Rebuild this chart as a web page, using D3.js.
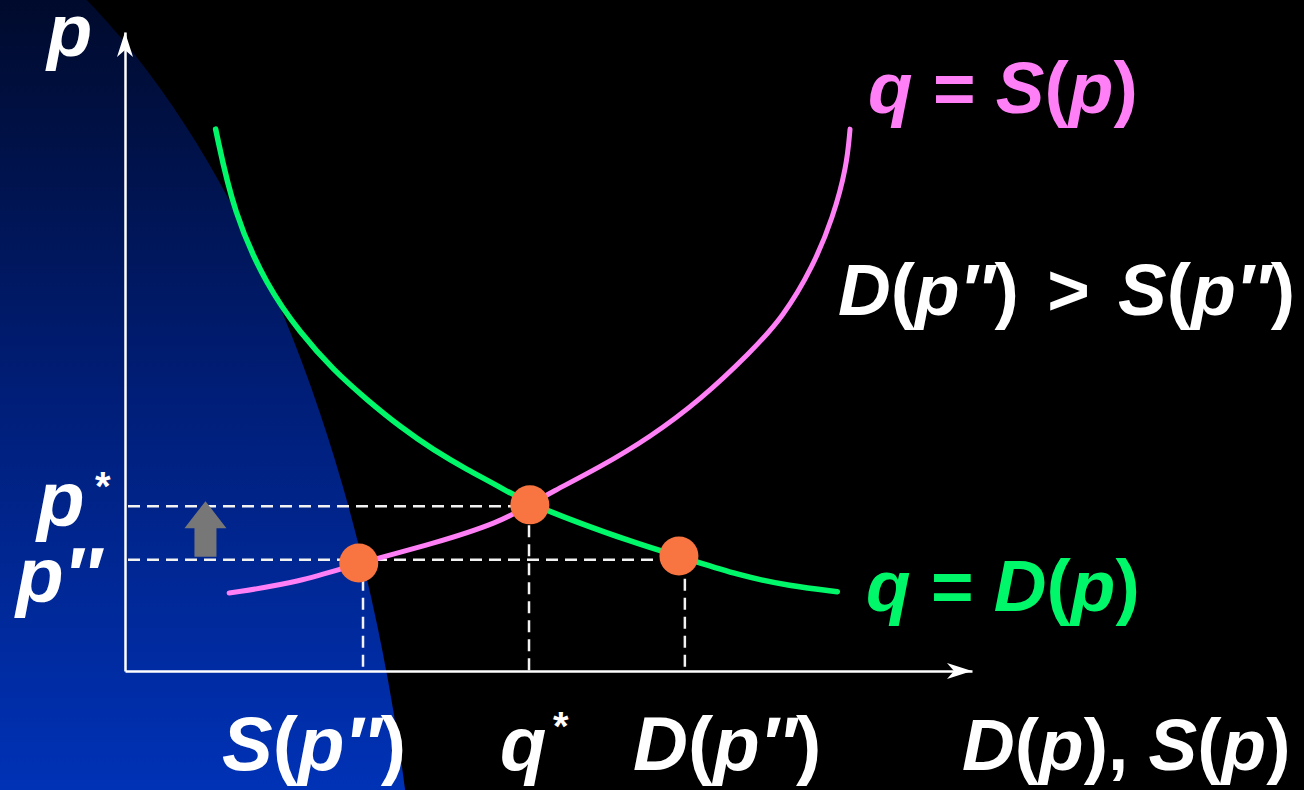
<!DOCTYPE html>
<html>
<head>
<meta charset="utf-8">
<script src="https://cdn.jsdelivr.net/npm/d3@7"></script>
<style>
  html, body { margin: 0; padding: 0; background: #000; }
  svg { display: block; }
  text { font-family: "Liberation Sans", Arial, Helvetica, sans-serif; font-weight: bold; }
</style>
</head>
<body>
<svg id="chart" width="1304" height="790"></svg>
<script>
// Demand curve q = D(p): [quantity, price]
const demandCurve = [
  [1.07, 8.48], [1.28, 7.17], [1.68, 6.01], [2.07, 5.29], [2.46, 4.71],
  [2.86, 4.24], [3.25, 3.82], [3.64, 3.46], [4.04, 3.15], [4.43, 2.88],
  [4.78, 2.60], [6.08, 1.97], [6.54, 1.80], [7.26, 1.49], [7.85, 1.33],
  [8.41, 1.24]
];
// Supply curve q = S(p): [quantity, price]
const supplyCurve = [
  [1.23, 1.22], [2.07, 1.39], [2.76, 1.69], [3.64, 1.99], [4.43, 2.33],
  [4.78, 2.60], [5.02, 2.79], [5.61, 3.19], [6.20, 3.66], [6.79, 4.24],
  [7.38, 4.98], [7.77, 5.54], [8.12, 6.32], [8.36, 7.10], [8.52, 7.89],
  [8.56, 8.48]
];
// Highlighted points: equilibrium, S(p''), D(p'')
const markedPoints = [[4.78, 2.60], [2.76, 1.69], [6.54, 1.80]];
// Price guides (p*, p'') and the quantity each one reaches
const priceGuides = [[2.58, 4.77], [1.74, 6.61]];
// Quantity guides (S(p''), q*, D(p'')) and their price level
const quantityGuides = [[2.81, 1.74], [4.77, 2.58], [6.61, 1.74]];

const svg = d3.select("#chart");
const W = 1304, H = 790;

const x = d3.scaleLinear().domain([0, 10]).range([125, 972]);
const y = d3.scaleLinear().domain([0, 10]).range([671, 32]);

// Backdrop
svg.append("rect").attr("width", W).attr("height", H).attr("fill", "#000");
const defs = svg.append("defs");
const grad = defs.append("linearGradient").attr("id", "blueFade")
  .attr("gradientUnits", "userSpaceOnUse")
  .attr("x1", 0).attr("y1", 0).attr("x2", 0).attr("y2", H);
grad.append("stop").attr("offset", 0).attr("stop-color", "#000a2c");
grad.append("stop").attr("offset", 0.5).attr("stop-color", "#001e78");
grad.append("stop").attr("offset", 1).attr("stop-color", "#0032b6");
svg.append("ellipse")
  .attr("cx", -200).attr("cy", 1100).attr("rx", 625).attr("ry", 1238)
  .attr("fill", "url(#blueFade)");

// Dashed guide lines
const guideStyle = sel => sel.attr("stroke", "#f2f2f2").attr("stroke-width", 2.5)
  .attr("stroke-dasharray", "12 7").attr("fill", "none");
svg.append("g").selectAll("line").data(priceGuides).join("line")
  .attr("x1", x(0) + 3).attr("x2", d => x(d[1]))
  .attr("y1", d => y(d[0])).attr("y2", d => y(d[0]))
  .call(guideStyle);
svg.append("g").selectAll("line").data(quantityGuides).join("line")
  .attr("x1", d => x(d[0])).attr("x2", d => x(d[0]))
  .attr("y1", d => y(d[1])).attr("y2", y(0))
  .call(guideStyle);

// Axes
const xAxis = d3.axisBottom(x).tickValues([]).tickSizeOuter(0);
const yAxis = d3.axisLeft(y).tickValues([]).tickSizeOuter(0);
const gx = svg.append("g").attr("transform", `translate(0,${y(0)})`).call(xAxis);
const gy = svg.append("g").attr("transform", `translate(${x(0)},0)`).call(yAxis);
[gx, gy].forEach(g => g.select(".domain").attr("stroke", "#fff").attr("stroke-width", 2.5));

// Arrow heads at the axis ends
const tipX = x(10), tipY = y(10);
svg.append("path")
  .attr("d", `M${tipX},${y(0)} L${tipX - 25},${y(0) - 8} L${tipX - 18},${y(0)} L${tipX - 25},${y(0) + 8} Z`)
  .attr("fill", "#fff");
svg.append("path")
  .attr("d", `M${x(0)},${tipY} L${x(0) - 8},${tipY + 25} L${x(0)},${tipY + 18} L${x(0) + 8},${tipY + 25} Z`)
  .attr("fill", "#fff");

// Price adjustment arrow
const arrowQ = 0.95;
const ax = x(arrowQ), aTop = y(2.58) - 5, aBase = y(1.74) - 3;
svg.append("path")
  .attr("d", `M${ax},${aTop} L${ax + 21},${aTop + 27} L${ax + 11},${aTop + 27} L${ax + 11},${aBase}
              L${ax - 11},${aBase} L${ax - 11},${aTop + 27} L${ax - 21},${aTop + 27} Z`)
  .attr("fill", "#777777");

// Curves
const line = d3.line().x(d => x(d[0])).y(d => y(d[1])).curve(d3.curveBasis);
svg.append("path").datum(demandCurve).attr("d", line)
  .attr("fill", "none").attr("stroke", "#00f76a").attr("stroke-width", 5.5)
  .attr("stroke-linecap", "round");
svg.append("path").datum(supplyCurve).attr("d", line)
  .attr("fill", "none").attr("stroke", "#ff80f6").attr("stroke-width", 5)
  .attr("stroke-linecap", "round");

// Points
svg.append("g").selectAll("circle").data(markedPoints).join("circle")
  .attr("cx", d => x(d[0])).attr("cy", d => y(d[1])).attr("r", 19.5)
  .attr("fill", "#f87440");

// Labels: segments of [text, italic, dx]
function label(parts, px, py, size, color) {
  const t = svg.append("text").attr("x", px).attr("y", py)
    .attr("font-size", size).attr("fill", color);
  parts.forEach(([s, it, dx]) => {
    const ts = t.append("tspan").text(s).attr("font-style", it ? "italic" : "normal");
    if (dx) ts.attr("dx", dx);
  });
  return t;
}
const PP = "\u2033";
label([["q", 1], [" = ", 0], ["S", 1], ["(", 0], ["p", 1], [")", 0]], 868, 113, 73, "#ff80f6");
label([["q", 1], [" = ", 0], ["D", 1], ["(", 0], ["p", 1], [")", 0]], 866, 611, 73, "#00f76a");
label([["D", 1], ["(", 0], ["p" + PP, 1], [")", 0], [" > ", 0, 8], ["S", 1, 8], ["(", 0], ["p" + PP, 1], [")", 0]], 838, 315, 73, "#fff");
label([["p", 1]], 47, 56, 74, "#fff");
label([["p", 1]], 37, 526, 78, "#fff");
label([["*", 0]], 95, 500, 40, "#fff");
label([["p" + PP, 1]], 16, 602, 78, "#fff");
label([["S", 1], ["(", 0], ["p" + PP, 1], [")", 0]], 222, 770, 76, "#fff");
label([["q", 1]], 500, 770, 76, "#fff");
label([["*", 0]], 553, 740, 40, "#fff");
label([["D", 1], ["(", 0], ["p" + PP, 1], [")", 0]], 633, 770, 76, "#fff");
label([["D", 1], ["(", 0], ["p", 1], [")", 0], [", ", 0], ["S", 1], ["(", 0], ["p", 1], [")", 0]], 962, 770, 73, "#fff");
</script>
</body>
</html>
